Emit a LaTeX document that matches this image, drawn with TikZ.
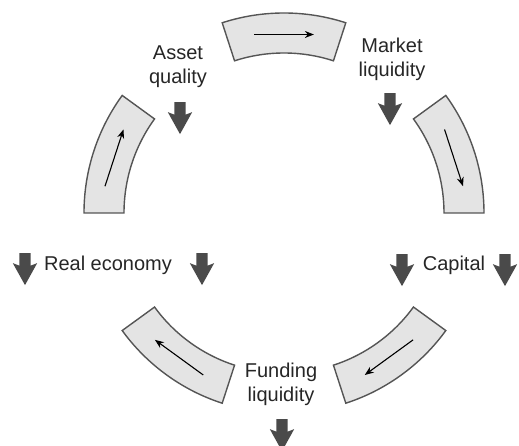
\documentclass[tikz,border=0pt]{standalone}
\usepackage{fontspec}
\setmainfont{Liberation Sans}
\usetikzlibrary{shapes.arrows,arrows.meta}

\definecolor{bandfill}{HTML}{E4E4E4}
\definecolor{bandline}{HTML}{555555}
\definecolor{arrowgrey}{HTML}{4A4A4A}
\definecolor{labelcol}{HTML}{262626}

\tikzset{
  band/.style={fill=bandfill, draw=bandline, line width=1.4pt},
  flow/.style={->, line width=1.1pt},
  txt/.style={font=\fontsize{20}{24}\selectfont, text=labelcol, align=center, inner sep=0pt},
  blockarrow/.style={single arrow, fill=arrowgrey, draw=none, inner sep=5.5pt,
    shape border rotate=270, minimum width=24pt, minimum height=32pt,
    single arrow head extend=6.5pt, single arrow tip angle=58, single arrow head indent=2.5pt}
}

\begin{document}
\begin{tikzpicture}[x=1pt, y=1pt, >={Stealth[length=9pt,width=7pt]}]
\useasboundingbox (-284,-233) rectangle (235,213);
% the five bands of the loop, all turning clockwise
\foreach \a in {90,18,-54,-126,162} {
  \draw[band] (\a+18:200) arc[start angle=\a+18, end angle=\a-18, radius=200]
    -- (\a-18:160) arc[start angle=\a-18, end angle=\a+18, radius=160] -- cycle;
  \draw[flow] (\a+9.5:181) -- (\a-9.5:181);
}
\node[txt] (aq) at (-106,146) {Asset\\quality};
\node[txt] (ml) at (108,154) {Market\\liquidity};
\node[txt] (re) at (-176,-52) {Real economy};
\node[txt] (cap) at (170,-52) {Capital};
\node[txt] (fl) at (-3,-171) {Funding\\liquidity};
% falling arrows
\node[blockarrow] (aqa) at (-104,100) {};
\node[blockarrow] (mla) at (106,109) {};
\node[blockarrow] (rel) at (-259,-51) {};
\node[blockarrow] (rer) at (-82,-51) {};
\node[blockarrow] (capl) at (118,-52) {};
\node[blockarrow] (capr) at (221,-52) {};
\node[blockarrow] (fla) at (-2,-217) {};
\end{tikzpicture}
\end{document}
